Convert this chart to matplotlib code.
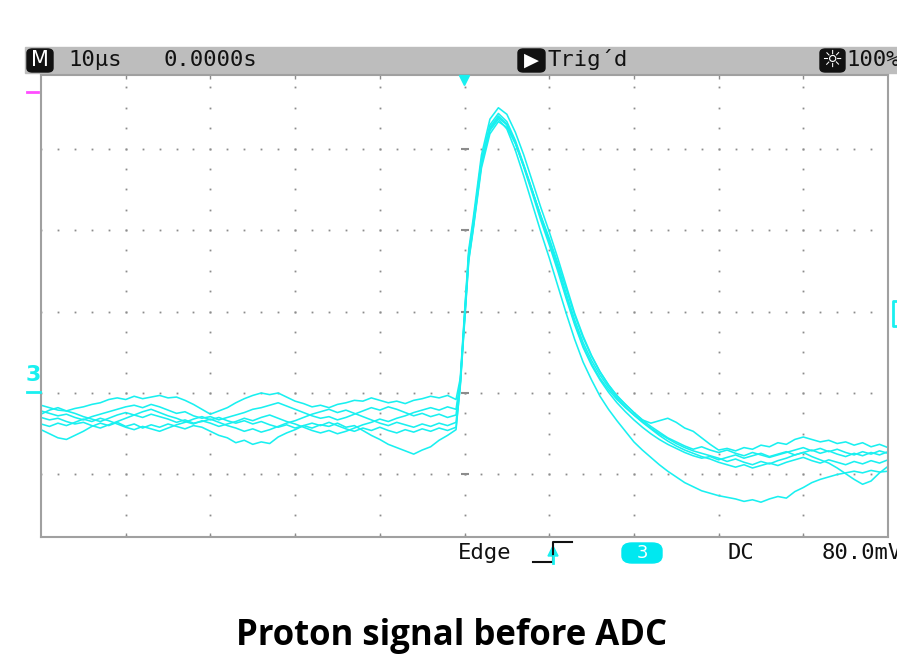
import numpy as np
import matplotlib
matplotlib.use("Agg")
import matplotlib.pyplot as plt
from matplotlib.patches import Rectangle, FancyBboxPatch, Polygon
from matplotlib.lines import Line2D

# time base in divisions (10 us/div), a sample every 0.1 div, denser on the rising edge
t = np.concatenate([np.arange(-50, 0) / 10, [-0.05, 0.0, 0.05, 0.1], np.arange(2, 51) / 10])

# six overlaid captures of channel 3, values in divisions (80 mV/div), ground = 0
ch3_1 = [-0.15, -0.18, -0.21, -0.22, -0.19, -0.17, -0.14, -0.12, -0.08, -0.06,
         -0.08, -0.04, -0.07, -0.05, -0.03, -0.06, -0.05, -0.09, -0.14, -0.20,
         -0.26, -0.22, -0.18, -0.12, -0.07, -0.03, 0.00, -0.02, 0.00, -0.05,
         -0.10, -0.13, -0.17, -0.15, -0.18, -0.14, -0.12, -0.09, -0.10, -0.06,
         -0.09, -0.12, -0.10, -0.13, -0.09, -0.07, -0.04, -0.06, -0.03, -0.08,
         0.18, 0.98, 1.76, 2.12,
         2.92, 3.36, 3.50, 3.42, 3.20, 2.92, 2.60, 2.28, 1.98,
         1.66, 1.32, 0.98, 0.70, 0.46, 0.26, 0.10, -0.04, -0.14, -0.24,
         -0.33, -0.37, -0.34, -0.31, -0.36, -0.43, -0.47, -0.55, -0.63, -0.70,
         -0.68, -0.71, -0.67, -0.69, -0.64, -0.66, -0.61, -0.63, -0.57, -0.54,
         -0.57, -0.60, -0.58, -0.62, -0.60, -0.64, -0.61, -0.66, -0.63, -0.67]

ch3_2 = [-0.22, -0.25, -0.28, -0.26, -0.30, -0.33, -0.29, -0.26, -0.23, -0.20,
         -0.17, -0.15, -0.18, -0.14, -0.17, -0.21, -0.25, -0.23, -0.28, -0.31,
         -0.29, -0.33, -0.30, -0.27, -0.24, -0.20, -0.18, -0.15, -0.12, -0.16,
         -0.20, -0.24, -0.28, -0.31, -0.29, -0.33, -0.30, -0.26, -0.22, -0.18,
         -0.21, -0.17, -0.20, -0.24, -0.28, -0.25, -0.29, -0.26, -0.30, -0.27,
         0.13, 0.92, 1.70, 2.06,
         2.86, 3.29, 3.43, 3.33, 3.10, 2.80, 2.49, 2.16, 1.86,
         1.54, 1.19, 0.86, 0.58, 0.36, 0.18, 0.04, -0.08, -0.18, -0.27,
         -0.35, -0.43, -0.50, -0.56, -0.62, -0.67, -0.71, -0.74, -0.77, -0.80,
         -0.84, -0.81, -0.85, -0.88, -0.84, -0.87, -0.83, -0.80, -0.76, -0.73,
         -0.70, -0.74, -0.71, -0.75, -0.78, -0.74, -0.77, -0.73, -0.76, -0.72]

ch3_3 = [-0.30, -0.33, -0.31, -0.35, -0.38, -0.36, -0.40, -0.43, -0.39, -0.35,
         -0.31, -0.27, -0.30, -0.26, -0.29, -0.32, -0.36, -0.33, -0.37, -0.35,
         -0.32, -0.36, -0.40, -0.43, -0.47, -0.44, -0.48, -0.45, -0.41, -0.37,
         -0.34, -0.30, -0.26, -0.23, -0.20, -0.24, -0.21, -0.25, -0.29, -0.33,
         -0.37, -0.40, -0.36, -0.39, -0.42, -0.38, -0.41, -0.37, -0.40, -0.36,
         0.12, 0.90, 1.68, 2.03,
         2.82, 3.24, 3.38, 3.29, 3.08, 2.79, 2.48, 2.17, 1.87,
         1.56, 1.22, 0.90, 0.62, 0.40, 0.22, 0.07, -0.06, -0.17, -0.27,
         -0.36, -0.44, -0.52, -0.59, -0.65, -0.70, -0.74, -0.78, -0.81, -0.85,
         -0.88, -0.91, -0.88, -0.92, -0.89, -0.86, -0.89, -0.85, -0.82, -0.79,
         -0.83, -0.86, -0.82, -0.85, -0.88, -0.84, -0.87, -0.83, -0.86, -0.82]

ch3_4 = [-0.45, -0.50, -0.55, -0.57, -0.52, -0.47, -0.41, -0.37, -0.40, -0.36,
         -0.41, -0.38, -0.43, -0.39, -0.42, -0.38, -0.41, -0.44, -0.40, -0.42,
         -0.47, -0.52, -0.55, -0.61, -0.58, -0.63, -0.60, -0.62, -0.54, -0.49,
         -0.45, -0.40, -0.43, -0.39, -0.41, -0.37, -0.42, -0.40, -0.46, -0.52,
         -0.57, -0.63, -0.67, -0.71, -0.75, -0.70, -0.66, -0.58, -0.52, -0.45,
         0.10, 0.88, 1.64, 2.00,
         2.80, 3.22, 3.36, 3.24, 2.98, 2.66, 2.32, 1.98, 1.66,
         1.32, 0.98, 0.66, 0.38, 0.16, -0.04, -0.20, -0.34, -0.47, -0.60,
         -0.70, -0.79, -0.88, -0.96, -1.03, -1.10, -1.15, -1.20, -1.23, -1.26,
         -1.28, -1.30, -1.33, -1.31, -1.34, -1.30, -1.27, -1.29, -1.21, -1.16,
         -1.10, -1.06, -1.03, -1.00, -0.98, -0.96, -0.98, -0.95, -0.97, -0.96]

ch3_5 = [-0.26, -0.21, -0.18, -0.22, -0.25, -0.29, -0.32, -0.35, -0.31, -0.27,
         -0.24, -0.27, -0.23, -0.20, -0.24, -0.28, -0.31, -0.35, -0.38, -0.34,
         -0.37, -0.41, -0.38, -0.35, -0.31, -0.34, -0.30, -0.27, -0.31, -0.35,
         -0.38, -0.42, -0.46, -0.49, -0.46, -0.50, -0.47, -0.43, -0.39, -0.36,
         -0.32, -0.35, -0.31, -0.28, -0.24, -0.21, -0.18, -0.21, -0.17, -0.20,
         0.14, 0.95, 1.72, 2.05,
         2.84, 3.26, 3.40, 3.30, 3.07, 2.77, 2.45, 2.12, 1.82,
         1.50, 1.16, 0.84, 0.56, 0.34, 0.16, 0.01, -0.12, -0.23, -0.33,
         -0.42, -0.50, -0.57, -0.63, -0.68, -0.73, -0.77, -0.80, -0.78, -0.82,
         -0.79, -0.76, -0.80, -0.77, -0.74, -0.78, -0.75, -0.72, -0.76, -0.73,
         -0.78, -0.82, -0.86, -0.92, -0.99, -1.06, -1.12, -1.08, -0.98, -0.90]

ch3_6 = [-0.38, -0.41, -0.37, -0.40, -0.36, -0.32, -0.35, -0.31, -0.34, -0.38,
         -0.42, -0.45, -0.41, -0.44, -0.47, -0.43, -0.39, -0.36, -0.32, -0.29,
         -0.33, -0.30, -0.34, -0.37, -0.34, -0.38, -0.35, -0.39, -0.42, -0.39,
         -0.43, -0.40, -0.37, -0.40, -0.36, -0.40, -0.44, -0.47, -0.43, -0.46,
         -0.42, -0.46, -0.49, -0.45, -0.48, -0.44, -0.47, -0.43, -0.46, -0.42,
         0.08, 0.85, 1.62, 1.98,
         2.76, 3.18, 3.33, 3.26, 3.06, 2.78, 2.48, 2.18, 1.90,
         1.60, 1.28, 0.96, 0.68, 0.45, 0.26, 0.10, -0.03, -0.14, -0.24,
         -0.33, -0.41, -0.48, -0.55, -0.60, -0.65, -0.69, -0.66, -0.70, -0.73,
         -0.70, -0.74, -0.77, -0.73, -0.76, -0.79, -0.76, -0.73, -0.70, -0.67,
         -0.71, -0.68, -0.72, -0.69, -0.73, -0.76, -0.72, -0.75, -0.71, -0.74]

traces = [ch3_1, ch3_2, ch3_3, ch3_4, ch3_5, ch3_6]

grid_x = [-4, -3, -2, -1, 0, 1, 2, 3, 4]
grid_y = [-1, 0, 1, 2, 3]

CYAN = '#19f0f0'
GRID = '#8c8c8c'
W, H = 897, 655


def fx(px):
    return px / W


def fy(py):
    return 1 - py / H


fig = plt.figure(figsize=(W / 100, H / 100), dpi=100)
fig.patch.set_facecolor('white')

ax = fig.add_axes([fx(41), fy(537), (888 - 41) / W, (537 - 75) / H])
ax.set_xlim(-5, 5)
ax.set_ylim(-1.767, 3.902)

# graticule: dotted lines made of single points
for gx in grid_x:
    ys = np.arange(-1.75, 3.91, 0.25)
    ax.plot(np.full(len(ys), gx), ys, ls='none', marker='s', ms=1.3, color=GRID, mew=0)
for gy in grid_y:
    xs = np.arange(-5, 5.01, 0.2)
    ax.plot(xs, np.full(len(xs), gy), ls='none', marker='s', ms=1.3, color=GRID, mew=0)
ax.plot(np.zeros(len(grid_y)), grid_y, ls='none', marker='_', ms=6, mew=1.5, color=GRID)

for tr in traces:
    ax.plot(t, tr, color=CYAN, lw=1.15, antialiased=True)

ax.set_xticks(grid_x)
ax.set_yticks([])
ax.tick_params(axis='x', direction='in', length=3, width=1, color=GRID, top=True,
               labelbottom=False)
for s in ax.spines.values():
    s.set_color('#a0a0a0')
    s.set_linewidth(1.5)

# header bar
fig.add_artist(Rectangle((fx(25), fy(73)), (W - 25) / W, 26 / H, transform=fig.transFigure,
                         color='#bdbdbd', zorder=0))
mono = dict(family='DejaVu Sans Mono', fontsize=16, va='center', color='#111111')
for x0, x1 in [(27, 53), (518, 545), (820, 845)]:
    fig.add_artist(FancyBboxPatch((fx(x0), fy(72)), (x1 - x0) / W, 23 / H,
                                  boxstyle='round,pad=0,rounding_size=0.006',
                                  transform=fig.transFigure, color='#111111', zorder=1))
fig.text(fx(40), fy(60), 'M', color='white', family='DejaVu Sans', fontsize=15,
         ha='center', va='center')
fig.text(fx(68), fy(60), '10µs', **mono)
fig.text(fx(163), fy(60), '0.0000s', **mono)
fig.text(fx(531), fy(60), '▶', color='white', fontsize=14, ha='center', va='center')
fig.text(fx(547), fy(60), 'Trig´d', **mono)
fig.text(fx(832), fy(60), '☼', color='white', fontsize=17, ha='center', va='center')
fig.text(fx(846), fy(60), '100%', **mono)

# channel markers
fig.add_artist(Line2D([fx(27), fx(38)], [fy(92), fy(92)], color='#ff4dff', lw=2))
fig.text(fx(33), fy(375), '3', color=CYAN, family='DejaVu Sans', fontweight='bold',
         fontsize=16, ha='center', va='center')
fig.add_artist(Line2D([fx(27), fx(40)], [fy(392), fy(392)], color=CYAN, lw=2))
fig.add_artist(Line2D([fx(464)], [fy(80)], marker='v', ms=7, color=CYAN, ls='none'))
fig.add_artist(Line2D([fx(897), fx(893), fx(893), fx(897)],
                      [fy(301), fy(301), fy(326), fy(326)], color=CYAN, lw=2))

# bottom status line
fig.text(fx(458), fy(553), 'Edge', **mono)
fig.add_artist(Line2D([fx(533), fx(553), fx(553), fx(572)],
                      [fy(562), fy(562), fy(542), fy(542)], color='#111111', lw=1.5))
fig.add_artist(Polygon([[fx(548), fy(556)], [fx(558), fy(556)], [fx(553), fy(546)]],
                       closed=True, transform=fig.transFigure, color=CYAN))
fig.add_artist(Line2D([fx(553), fx(553)], [fy(556), fy(563)], color=CYAN, lw=2))
fig.add_artist(FancyBboxPatch((fx(622), fy(563)), 40 / W, 20 / H,
                              boxstyle='round,pad=0,rounding_size=0.011',
                              transform=fig.transFigure, color='#00e8f0'))
fig.text(fx(642), fy(553), '3', color='white', family='DejaVu Sans', fontsize=13,
         ha='center', va='center')
fig.text(fx(727), fy(553), 'DC', **mono)
fig.text(fx(822), fy(553), '80.0mV', **mono)

fig.text(0.503, fy(636), 'Proton signal before ADC', family='Open Sans', fontweight='bold',
         fontsize=25, ha='center', va='center', color='black')

fig.savefig('out.png', dpi=100)
